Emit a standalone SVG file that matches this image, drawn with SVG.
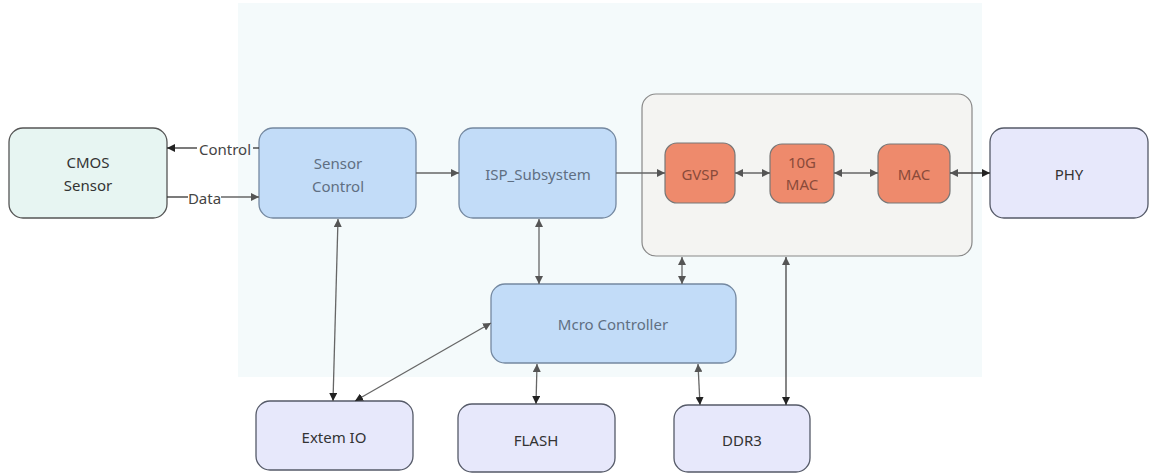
<svg xmlns="http://www.w3.org/2000/svg" width="1149" height="474" viewBox="0 0 1149 474">
<defs>
<marker id="ah" viewBox="0 0 10 10" refX="10" refY="5" markerWidth="8" markerHeight="8" markerUnits="userSpaceOnUse" orient="auto-start-reverse">
<path d="M0,0 L10,5 L0,10 z" fill="#555"/>
</marker>
<marker id="ahd" viewBox="0 0 10 10" refX="10" refY="5" markerWidth="8" markerHeight="8" markerUnits="userSpaceOnUse" orient="auto-start-reverse">
<path d="M0,0 L10,5 L0,10 z" fill="#222"/>
</marker>
</defs>
<style>
text{font-family:"Noto Sans","Liberation Sans",sans-serif;font-size:15px;text-anchor:middle;dominant-baseline:central}
.blue rect{fill:#c2dcf8;stroke:#7488a0;stroke-width:1.3}
.blue text{fill:#5f6f82}
.ext rect{fill:#e7e8fb;stroke:#555a68;stroke-width:1.3}
.ext text{fill:#333}
.org rect{fill:#ee8a6c;stroke:#777;stroke-width:1.2}
.org text{fill:#8a4a3a}
.c line,.c path{stroke:#666;stroke-width:1.3;fill:none}
.lbl{fill:#444;font-size:15px}
</style>
<rect x="238" y="3" width="744" height="374" fill="#f4fafb"/>
<g id="subsys"><rect x="642" y="94" width="330" height="162" rx="14" fill="#f4f4f2" stroke="#888" stroke-width="1.2"/></g>
<g id="cmos"><rect x="9" y="128" width="158" height="90" rx="14" fill="#e7f5f2" stroke="#555" stroke-width="1.3"/><text x="88" y="162" fill="#333">CMOS</text><text x="88" y="185" fill="#333">Sensor</text></g>
<g id="sensorctl" class="blue"><rect x="259" y="128" width="157" height="90" rx="14"/><text x="338" y="163">Sensor</text><text x="338" y="186">Control</text></g>
<g id="isp" class="blue"><rect x="459" y="128" width="157" height="90" rx="14"/><text x="538" y="174">ISP_Subsystem</text></g>
<g id="gvsp" class="org"><rect x="665" y="143" width="70" height="60" rx="12"/><text x="700" y="174">GVSP</text></g>
<g id="mac10g" class="org"><rect x="770" y="144" width="64" height="59" rx="12"/><text x="802" y="162">10G</text><text x="802" y="184">MAC</text></g>
<g id="mac" class="org"><rect x="878" y="144" width="72" height="59" rx="12"/><text x="914" y="174">MAC</text></g>
<g id="phy" class="ext"><rect x="990" y="128" width="158" height="90" rx="14"/><text x="1069" y="174">PHY</text></g>
<g id="mcro" class="blue"><rect x="491" y="284" width="245" height="79" rx="14"/><text x="613" y="324">Mcro Controller</text></g>
<g id="extio" class="ext"><rect x="256" y="401" width="157" height="69" rx="14"/><text x="334" y="437">Extem IO</text></g>
<g id="flash" class="ext"><rect x="458" y="404" width="157" height="68" rx="14"/><text x="536" y="440">FLASH</text></g>
<g id="ddr3" class="ext"><rect x="674" y="405" width="136" height="67" rx="14"/><text x="742" y="440">DDR3</text></g>
<g id="connectors" class="c">
<line x1="197" y1="148" x2="167" y2="148" marker-end="url(#ahd)" style="stroke:#333"/>
<line x1="253" y1="148" x2="259" y2="148" style="stroke:#333"/>
<text class="lbl" x="225" y="149">Control</text>
<line x1="167" y1="197" x2="188" y2="197" style="stroke:#333"/>
<line x1="221" y1="197" x2="259" y2="197" marker-end="url(#ah)"/>
<text class="lbl" x="204.5" y="198">Data</text>
<line x1="416" y1="173" x2="459" y2="173" marker-end="url(#ah)"/>
<line x1="616" y1="173" x2="665" y2="173" marker-end="url(#ah)"/>
<line x1="735" y1="173" x2="770" y2="173" marker-start="url(#ah)" marker-end="url(#ah)"/>
<line x1="834" y1="173" x2="878" y2="173" marker-start="url(#ah)" marker-end="url(#ah)"/>
<line x1="950" y1="173" x2="990" y2="173" marker-start="url(#ah)" marker-end="url(#ahd)" style="stroke:#444"/>
<line x1="338" y1="219" x2="333" y2="401" marker-start="url(#ah)" marker-end="url(#ahd)"/>
<line x1="355" y1="401" x2="491" y2="323" marker-start="url(#ahd)" marker-end="url(#ah)"/>
<line x1="539" y1="219" x2="539" y2="284" marker-start="url(#ah)" marker-end="url(#ah)"/>
<line x1="682" y1="257" x2="682" y2="284" marker-start="url(#ah)" marker-end="url(#ah)"/>
<line x1="537" y1="364" x2="536" y2="404" marker-start="url(#ah)" marker-end="url(#ahd)"/>
<line x1="698" y1="364" x2="700" y2="405" marker-start="url(#ah)" marker-end="url(#ahd)"/>
<line x1="786" y1="257" x2="786" y2="405" marker-start="url(#ah)" marker-end="url(#ahd)" style="stroke:#444"/>
</g>
</svg>
